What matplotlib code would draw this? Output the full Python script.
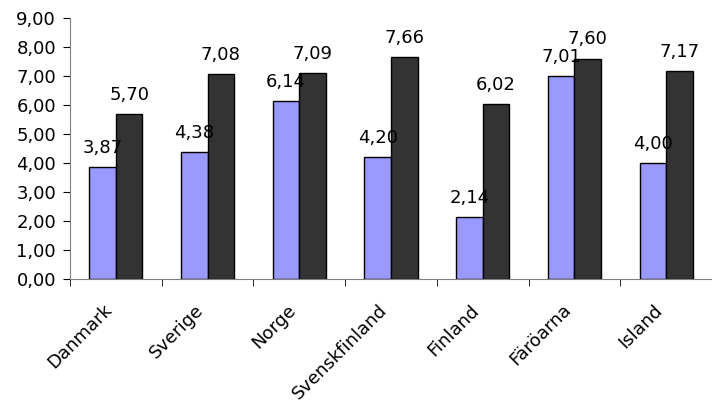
import matplotlib as _mpl
_mpl.use("Agg")
import numpy as np
import matplotlib.pyplot as plt
from matplotlib.ticker import FuncFormatter, FixedLocator

# data
countries = ["Danmark", "Sverige", "Norge", "Svenskfinland", "Finland", "Färöarna", "Island"]
series_a = [3.87, 4.38, 6.14, 4.20, 2.14, 7.01, 4.00]
series_b = [5.70, 7.08, 7.09, 7.66, 6.02, 7.60, 7.17]
y_ticks = [0, 1, 2, 3, 4, 5, 6, 7, 8, 9]

plt.rcParams["font.family"] = "DejaVu Sans"
FS = 13

fig = plt.figure(figsize=(7.12, 4.08), dpi=100)
ax = fig.add_axes([70 / 712, 1 - 279 / 408, 642 / 712, (279 - 18) / 408])

x = np.arange(len(countries))
w = 0.29
bars_a = ax.bar(x - w / 2, series_a, w, color="#9999FF", edgecolor="black", linewidth=1)
bars_b = ax.bar(x + w / 2, series_b, w, color="#333333", edgecolor="black", linewidth=1)


def comma(v):
    return f"{v:.2f}".replace(".", ",")


for bars, vals in ((bars_a, series_a), (bars_b, series_b)):
    for b, v in zip(bars, vals):
        ax.text(b.get_x() + b.get_width() / 2, v + 0.35, comma(v),
                ha="center", va="bottom", fontsize=FS)

ax.set_xlim(-0.5, len(countries) - 0.5)
ax.set_ylim(0, 9)
ax.set_yticks(y_ticks)
ax.yaxis.set_major_formatter(FuncFormatter(lambda v, p: comma(v)))

ax.set_xticks(x)
ax.set_xticklabels(countries, rotation=45, ha="right", va="bottom",
                   rotation_mode="anchor", fontsize=FS)
ax.xaxis.set_minor_locator(FixedLocator(np.arange(len(countries) + 1) - 0.5))
ax.tick_params(axis="x", which="major", length=0, pad=25)
ax.tick_params(axis="x", which="minor", length=5, color="black", direction="out")
ax.tick_params(axis="y", length=5, labelsize=FS, direction="out", pad=5)

for s in ("top", "right"):
    ax.spines[s].set_visible(False)
for s in ("left", "bottom"):
    ax.spines[s].set_color("#808080")

fig.savefig("out.png", dpi=100)
